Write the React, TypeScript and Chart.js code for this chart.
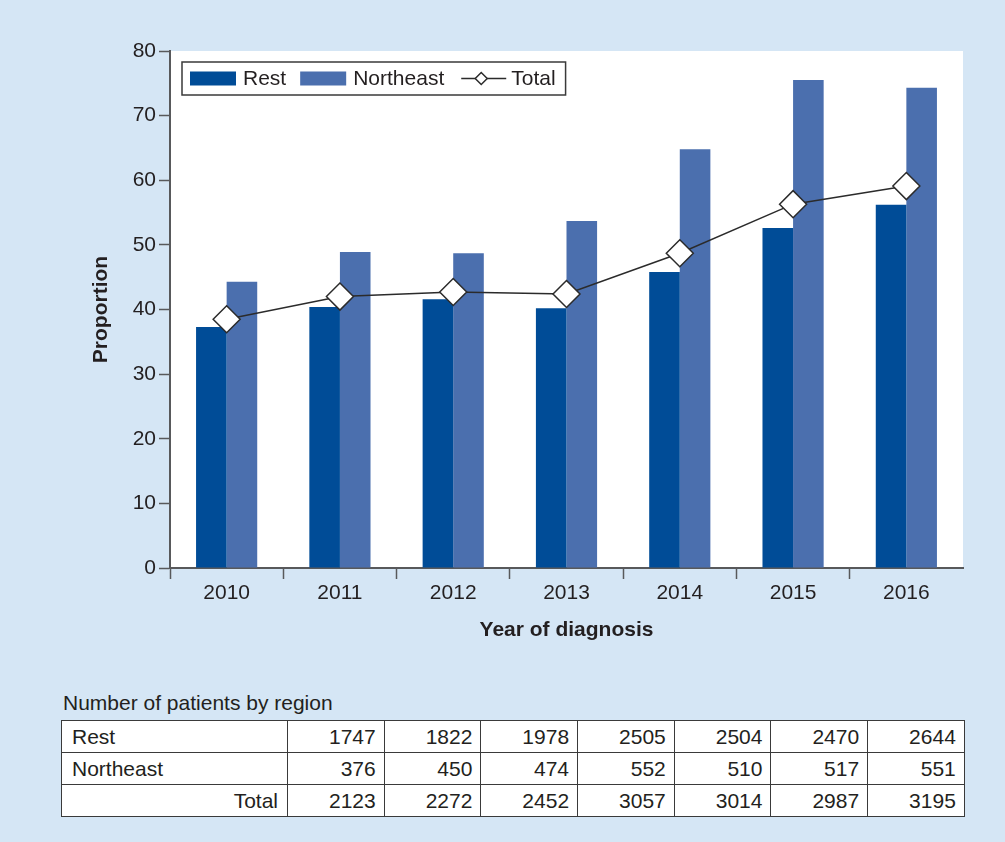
import React, { useEffect, useRef } from "react";
import { Chart, registerables } from "chart.js";

Chart.register(...registerables);

const years = ["2010", "2011", "2012", "2013", "2014", "2015", "2016"];
const restValues = [37.3, 40.4, 41.6, 40.2, 45.8, 52.6, 56.2];
const northeastValues = [44.3, 48.9, 48.7, 53.7, 64.8, 75.5, 74.3];
const totalValues = [38.5, 42.0, 42.7, 42.4, 48.7, 56.3, 59.1];

const tableTitle = "Number of patients by region";
const restCounts = [1747, 1822, 1978, 2505, 2504, 2470, 2644];
const northeastCounts = [376, 450, 474, 552, 510, 517, 551];
const totalCounts = [2123, 2272, 2452, 3057, 3014, 2987, 3195];

const FONT = '"Liberation Sans", Arial, Helvetica, sans-serif';
const TEXT = "#231f20";
const AXIS = "#58595b";
const BG = "#d5e6f5";
const REST_COLOR = "#004c97";
const NE_COLOR = "#4b6fae";

const legendBoxPlugin = {
  id: "legendBox",
  afterDraw(chart: any) {
    const { ctx, chartArea } = chart;
    const ds = chart.data.datasets;
    const fs = 21;
    ctx.save();
    ctx.font = `${fs}px ${FONT}`;
    ctx.textBaseline = "middle";
    ctx.textAlign = "left";
    const left = chartArea.left + 12;
    const top = chartArea.top + 11;
    const h = 33;
    const cy = top + h / 2;
    let x = left + 8;
    const items: any[] = [];
    const order = [1, 2, 0];
    order.forEach((i, k) => {
      const d = ds[i];
      const isLine = d.type === "line";
      const tw = ctx.measureText(d.label).width;
      items.push({ d, isLine, x, tw });
      x += 45 + (isLine ? 5 : 7) + tw;
      if (k < order.length - 1) x += ds[order[k + 1]].type === "line" ? 18 : 15;
    });
    const right = x + 10;
    ctx.fillStyle = "#ffffff";
    ctx.fillRect(left, top, right - left, h);
    ctx.strokeStyle = "#3a3a3a";
    ctx.lineWidth = 1.5;
    ctx.strokeRect(left, top, right - left, h);
    items.forEach((it) => {
      const { d, isLine } = it;
      if (isLine) {
        ctx.strokeStyle = d.borderColor;
        ctx.lineWidth = 1.5;
        ctx.beginPath();
        ctx.moveTo(it.x, cy);
        ctx.lineTo(it.x + 45, cy);
        ctx.stroke();
        const r = 6;
        const mx = it.x + 20;
        ctx.beginPath();
        ctx.moveTo(mx - r, cy);
        ctx.lineTo(mx, cy - r);
        ctx.lineTo(mx + r, cy);
        ctx.lineTo(mx, cy + r);
        ctx.closePath();
        ctx.fillStyle = "#ffffff";
        ctx.fill();
        ctx.stroke();
        ctx.fillStyle = TEXT;
        ctx.fillText(d.label, it.x + 50, cy + 1);
      } else {
        ctx.fillStyle = d.backgroundColor;
        ctx.fillRect(it.x, cy - 7, 46, 14);
        ctx.fillStyle = TEXT;
        ctx.fillText(d.label, it.x + 53, cy + 1);
      }
    });
    ctx.restore();
  },
};

function ChartView() {
  const ref = useRef<HTMLCanvasElement | null>(null);
  useEffect(() => {
    if (!ref.current) return;
    const chart = new Chart(ref.current, {
      type: "bar",
      data: {
        labels: years,
        datasets: [
          {
            type: "line",
            label: "Total",
            data: totalValues,
            borderColor: "#2b2b2b",
            borderWidth: 1.5,
            backgroundColor: "#ffffff",
            pointStyle: "rectRot",
            pointRadius: 13.5,
            pointBackgroundColor: "#ffffff",
            pointBorderColor: "#2b2b2b",
            pointBorderWidth: 1.5,
            order: 0,
            tension: 0,
          } as any,
          {
            type: "bar",
            label: "Rest",
            data: restValues,
            backgroundColor: REST_COLOR,
            borderWidth: 0,
            barPercentage: 1,
            categoryPercentage: 0.54,
            order: 1,
          },
          {
            type: "bar",
            label: "Northeast",
            data: northeastValues,
            backgroundColor: NE_COLOR,
            borderWidth: 0,
            barPercentage: 1,
            categoryPercentage: 0.54,
            order: 1,
          },
        ],
      },
      options: {
        responsive: false,
        animation: false,
        layout: { padding: { left: 0, top: 51, right: 42, bottom: 0 } },
        plugins: {
          legend: { display: false },
          tooltip: { enabled: false },
          title: { display: false },
        },
        scales: {
          x: {
            offset: true,
            afterFit: (s: any) => {
              s.height = 92;
            },
            grid: {
              offset: true,
              drawOnChartArea: false,
              drawTicks: true,
              tickLength: 11,
              tickWidth: 1.5,
              tickColor: (c: any) => (c.tick === undefined || c.index >= years.length ? "rgba(0,0,0,0)" : AXIS),
            },
            border: { display: true, color: AXIS, width: 2 },
            ticks: {
              color: TEXT,
              font: { family: FONT, size: 21 },
              padding: 2,
              maxRotation: 0,
            },
            title: {
              display: true,
              text: "Year of diagnosis",
              color: TEXT,
              font: { family: FONT, size: 21, weight: "bold" },
              padding: { top: 0, bottom: 17 },
            },
          },
          y: {
            min: 0,
            max: 80,
            afterFit: (s: any) => {
              s.width = 170;
            },
            grid: {
              drawOnChartArea: false,
              drawTicks: true,
              tickLength: 11,
              tickWidth: 1.5,
              tickColor: AXIS,
            },
            border: { display: true, color: AXIS, width: 2 },
            ticks: {
              stepSize: 10,
              color: TEXT,
              font: { family: FONT, size: 21 },
              padding: 3,
            },
            title: {
              display: true,
              text: "Proportion",
              color: TEXT,
              font: { family: FONT, size: 21, weight: "bold" },
              padding: { top: 89, bottom: 0 },
            },
          },
        },
      },
      plugins: [
        {
          id: "whiteArea",
          beforeDraw(chart: any) {
            const { ctx, chartArea } = chart;
            ctx.save();
            ctx.fillStyle = "#ffffff";
            ctx.fillRect(chartArea.left, chartArea.top, chartArea.right - chartArea.left, chartArea.bottom - chartArea.top);
            ctx.restore();
          },
        },
        legendBoxPlugin,
      ],
    });
    return () => chart.destroy();
  }, []);
  return <canvas ref={ref} width={1005} height={660} style={{ position: "absolute", left: 0, top: 0, width: 1005, height: 660 }} />;
}

const cellBorder = "1.5px solid #3a3a3a";

function CountsTable() {
  const rows: [string, number[], "left" | "right"][] = [
    ["Rest", restCounts, "left"],
    ["Northeast", northeastCounts, "left"],
    ["Total", totalCounts, "right"],
  ];
  return (
    <div style={{ position: "absolute", left: 61, top: 688, width: 903, fontFamily: FONT, color: TEXT }}>
      <div style={{ fontSize: 21, lineHeight: "30px", paddingLeft: 2, height: 32 }}>{tableTitle}</div>
      <table style={{ borderCollapse: "collapse", width: 903, tableLayout: "fixed", fontSize: 21, background: "#ffffff" }}>
        <colgroup>
          <col style={{ width: 226 }} />
          {years.map((y) => (
            <col key={y} style={{ width: 96.7 }} />
          ))}
        </colgroup>
        <tbody>
          {rows.map(([label, vals, align]) => (
            <tr key={label} style={{ height: 32 }}>
              <td style={{ border: cellBorder, textAlign: align, padding: align === "left" ? "0 0 0 10px" : "0 9px 0 0", lineHeight: "29px" }}>{label}</td>
              {vals.map((v, i) => (
                <td key={i} style={{ border: cellBorder, textAlign: "right", padding: "0 8px 0 0", lineHeight: "29px" }}>
                  {v}
                </td>
              ))}
            </tr>
          ))}
        </tbody>
      </table>
    </div>
  );
}

export default function App() {
  useEffect(() => {
    document.body.style.margin = "0";
    document.body.style.background = BG;
  }, []);
  return (
    <div style={{ position: "absolute", left: 0, top: 0, width: 1005, height: 842, background: BG, overflow: "hidden" }}>
      <ChartView />
      <CountsTable />
    </div>
  );
}
